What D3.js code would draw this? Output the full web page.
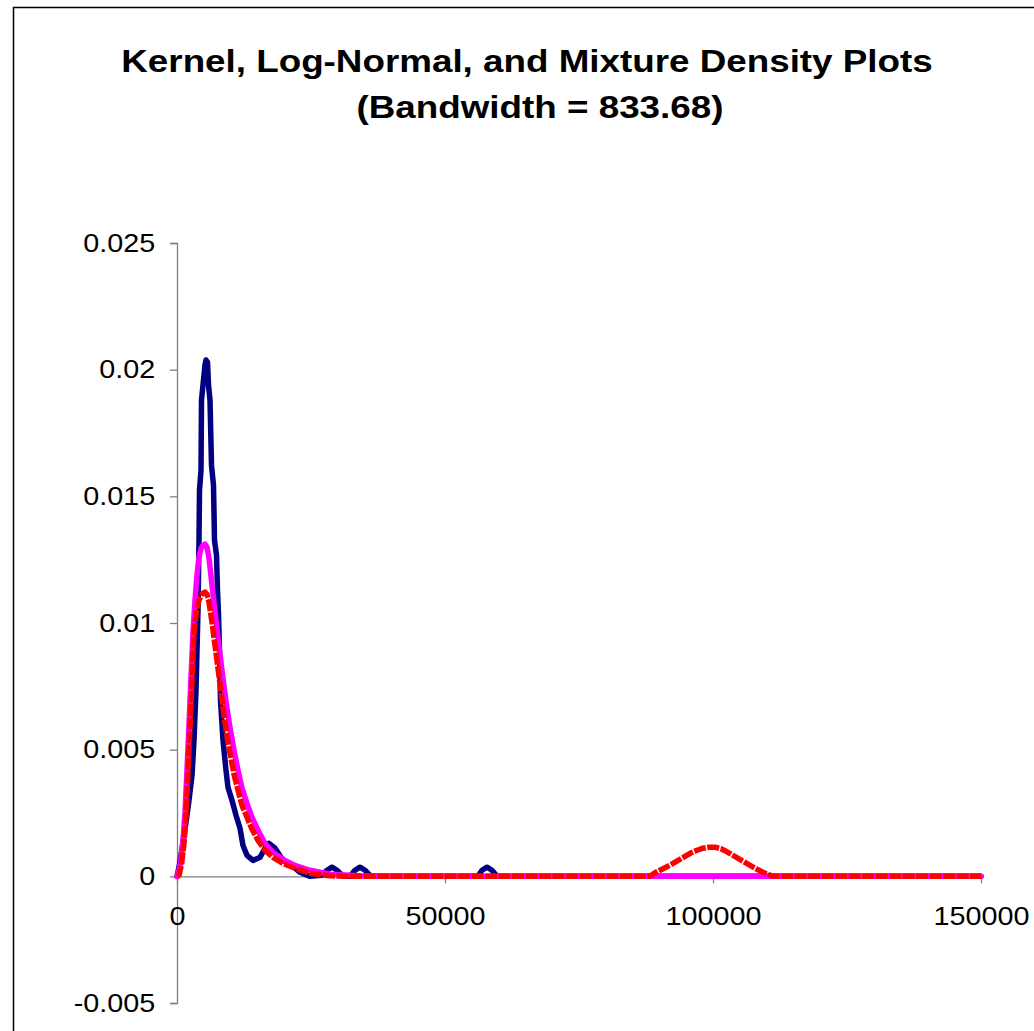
<!DOCTYPE html>
<html>
<head>
<meta charset="utf-8">
<script src="https://cdn.jsdelivr.net/npm/d3@7"></script>
<style>
  html, body { margin: 0; padding: 0; background: #fff; }
  svg { display: block; }
</style>
</head>
<body>
<script>
// ---------- DATA ----------
const titleLines = ["Kernel, Log-Normal, and Mixture Density Plots", "(Bandwidth = 833.68)"];

const xTicks = [0, 50000, 100000, 150000];
const xTickLabels = ["0", "50000", "100000", "150000"];
const yTicks = [0.025, 0.02, 0.015, 0.01, 0.005, 0, -0.005];
const yTickLabels = ["0.025", "0.02", "0.015", "0.01", "0.005", "0", "-0.005"];

// Kernel density (navy)
const kernelX = [0, 373, 746, 1119, 1679, 2239, 2799, 3172, 3545, 3918, 4104, 4198, 4478, 4571, 4851, 5224, 5411, 5690, 5877, 6157, 6437, 6810, 6997, 7370, 7556, 7743, 7929, 8116, 8582, 9142, 9515, 10261, 11008, 11754, 12314, 13060, 14179, 15485, 16418, 17164, 18284, 19403, 20523, 21642, 22948, 24814, 27053, 27985, 28918, 29851, 30970, 32277, 33209, 34142, 35075, 36195, 56158, 56904, 57837, 58770, 59702, 150000];
const kernelY = [0, 0.00036, 0.00083, 0.00134, 0.00213, 0.00300, 0.00399, 0.00537, 0.00735, 0.01050, 0.01327, 0.01524, 0.01603, 0.01880, 0.01939, 0.02018, 0.02038, 0.02030, 0.01939, 0.01880, 0.01623, 0.01544, 0.01327, 0.01268, 0.01129, 0.01031, 0.00892, 0.00695, 0.00537, 0.00419, 0.00351, 0.00300, 0.00241, 0.00190, 0.00122, 0.00083, 0.00063, 0.00075, 0.00111, 0.00130, 0.00111, 0.00075, 0.00051, 0.00039, 0.00016, 0, 0.00004, 0.00024, 0.00036, 0.00024, 0, 0, 0.00024, 0.00036, 0.00024, 0, 0, 0.00024, 0.00036, 0.00024, 0, 0];

// Log-normal density (magenta)
const lognormX = [0, 280, 653, 1119, 1493, 1866, 2239, 2612, 2985, 3358, 3731, 4104, 4478, 4851, 5224, 5597, 5970, 6530, 7090, 7649, 8209, 8769, 9329, 9888, 10634, 11381, 12127, 13060, 13993, 15112, 16418, 17911, 19776, 22015, 24814, 28545, 34142, 41605, 150000];
const lognormY = [0, 0.00016, 0.00055, 0.00142, 0.00253, 0.00419, 0.00600, 0.00782, 0.00964, 0.01090, 0.01189, 0.01260, 0.01295, 0.01307, 0.01311, 0.01299, 0.01256, 0.01149, 0.01043, 0.00940, 0.00845, 0.00750, 0.00663, 0.00588, 0.00498, 0.00419, 0.00348, 0.00288, 0.00233, 0.00182, 0.00130, 0.00095, 0.00067, 0.00043, 0.00024, 0.00008, 0.00002, 0, 0];

// Mixture density (red, dashed)
const mixX = [0, 373, 840, 1306, 1679, 2052, 2425, 2799, 3172, 3638, 4104, 4664, 5224, 5597, 5970, 6530, 7090, 7649, 8209, 8769, 9329, 9888, 10634, 11381, 12127, 13060, 13993, 15112, 16418, 17911, 19776, 22015, 24814, 28545, 34142, 88248, 89180, 90300, 91419, 92539, 93658, 94778, 95897, 97017, 98136, 99256, 100375, 101494, 102614, 103733, 104853, 105972, 107092, 108211, 109331, 110450, 111383, 150000];
const mixY = [0, 0.00004, 0.00047, 0.00130, 0.00241, 0.00407, 0.00588, 0.00774, 0.00960, 0.01050, 0.01090, 0.01114, 0.01122, 0.01114, 0.01082, 0.01003, 0.00912, 0.00821, 0.00727, 0.00636, 0.00553, 0.00486, 0.00403, 0.00340, 0.00280, 0.00233, 0.00186, 0.00142, 0.00103, 0.00075, 0.00051, 0.00032, 0.00012, 0.00002, 0, 0, 0.00014, 0.00026, 0.00038, 0.00051, 0.00065, 0.00079, 0.00093, 0.00103, 0.00111, 0.00115, 0.00115, 0.00109, 0.00097, 0.00083, 0.00069, 0.00055, 0.00041, 0.00028, 0.00016, 0.00006, 0, 0];

// ---------- CHART ----------
const W = 1034, H = 1031;
const svg = d3.select("body").append("svg").attr("width", W).attr("height", H);
svg.append("rect").attr("width", W).attr("height", H).attr("fill", "#fff");

// outer chart border (only left/top visible)
svg.append("rect").attr("x", 13.5).attr("y", 7.5).attr("width", 1200).attr("height", 1200)
  .attr("fill", "none").attr("stroke", "#000").attr("stroke-width", 1.5);

const x = d3.scaleLinear().domain([0, 150000]).range([177, 981]);
const y = d3.scaleLinear().domain([-0.005, 0.025]).range([1003, 243]);

const TEXT_STRETCH = 1.15;
const fontFamily = "'Liberation Sans', Arial, Helvetica, sans-serif";

// title
const titleG = svg.append("g").attr("font-family", fontFamily).attr("font-weight", "bold")
  .attr("font-size", 32).attr("fill", "#000").attr("text-anchor", "middle");
const titlePos = [[527, 72], [540, 118]];
titleLines.forEach((t, i) => {
  titleG.append("text")
    .attr("transform", `translate(${titlePos[i][0]},${titlePos[i][1]}) scale(${TEXT_STRETCH},1)`)
    .text(t);
});

// y axis
const yAxis = d3.axisLeft(y).tickValues(yTicks).tickSize(7).tickPadding(12)
  .tickFormat((d, i) => yTickLabels[i]);
const yG = svg.append("g").attr("transform", `translate(${x(0)},0)`).call(yAxis);

// x axis
const xAxis = d3.axisBottom(x).tickValues(xTicks).tickSize(7).tickPadding(24)
  .tickSizeOuter(0).tickFormat((d, i) => xTickLabels[i]);
const xG = svg.append("g").attr("transform", `translate(0,${y(0)})`).call(xAxis);

[yG, xG].forEach(g => {
  g.select(".domain").attr("stroke", "#808080").attr("stroke-width", 1.3);
  g.selectAll(".tick line").attr("stroke", "#808080").attr("stroke-width", 1.3);
  g.selectAll(".tick text").attr("font-family", fontFamily).attr("font-size", 25)
    .attr("fill", "#000").attr("transform", `scale(${TEXT_STRETCH},1)`);
});

// lines
const line = d3.line().x(d => x(d[0])).y(d => y(d[1])).curve(d3.curveLinear);
const series = [
  { xs: kernelX, ys: kernelY, color: "#000080", dash: null, w: 5.5 },
  { xs: lognormX, ys: lognormY, color: "#FF00FF", dash: null, w: 5.5 },
  { xs: mixX, ys: mixY, color: "#FF0000", dash: "12,1.5", w: 5.5 }
];
series.forEach(s => {
  const pts = s.xs.map((v, i) => [v, s.ys[i]]);
  const p = svg.append("path").datum(pts).attr("d", line)
    .attr("fill", "none").attr("stroke", s.color).attr("stroke-width", s.w)
    .attr("stroke-linejoin", "round").attr("stroke-linecap", s.dash ? "butt" : "round");
  if (s.dash) p.attr("stroke-dasharray", s.dash);
});
</script>
</body>
</html>
